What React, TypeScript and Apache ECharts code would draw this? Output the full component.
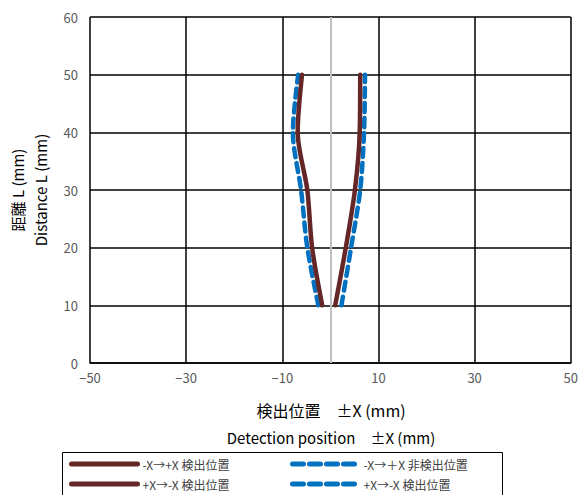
import React, { useEffect, useRef } from "react";
import * as echarts from "echarts";

const distance = [10, 20, 30, 40, 50];
const leftBrown = [-1.7, -3.8, -4.8, -6.8, -5.9];
const rightBrown = [1.0, 3.2, 5.1, 6.1, 6.2];
const leftBlue = [-2.5, -4.8, -6.1, -7.8, -6.7];
const rightBlue = [2.3, 4.3, 6.2, 7.0, 7.2];

const legendLabels: Record<string, string> = {
  b1: "-X→+X 検出位置",
  b2: "+X→-X 検出位置",
  c1: "-X→＋X 非検出位置",
  c2: "+X→-X 検出位置",
};

const FONT = "'Noto Sans CJK JP', 'Noto Sans', sans-serif";
const BROWN = "#642626";
const BLUE = "#0070C0";

function pts(xs: number[]) {
  return xs.map((x, i) => [x, distance[i]]);
}

export default function App() {
  const ref = useRef<HTMLDivElement>(null);
  useEffect(() => {
    if (!ref.current) return;
    const chart = echarts.init(ref.current, undefined, { renderer: "svg" });
    const brownLine = { color: BROWN, width: 4.5, cap: "round" as const };
    const blueLine = { color: BLUE, width: 4.5, type: [9, 6], cap: "round" as const };
    const legendCommon = {
      orient: "vertical",
      top: 458,
      height: 60,
      padding: 0,
      itemWidth: 66,
      itemHeight: 10,
      itemGap: 8,
      formatter: (n: string) => legendLabels[n],
      itemStyle: { opacity: 0 },
      textStyle: { fontSize: 12, color: "#404040", fontFamily: FONT },
    };
    chart.setOption({
      animation: false,
      textStyle: { fontFamily: FONT },
      grid: { left: 90, right: 9, top: 17, bottom: 132, containLabel: false },
      xAxis: {
        type: "value",
        min: -50,
        max: 50,
        interval: 20,
        axisLine: { show: true, lineStyle: { color: "#000", width: 1.5 } },
        axisTick: { show: false },
        splitLine: { show: true, lineStyle: { color: "#000", width: 1.5 } },
        axisLabel: {
          color: "#595959",
          fontSize: 13,
          fontFamily: FONT,
          margin: 8,
          formatter: (v: number) => String(v).replace("-", "−"),
        },
      },
      yAxis: {
        type: "value",
        min: 0,
        max: 60,
        interval: 10,
        axisLine: { show: true, lineStyle: { color: "#000", width: 1.5 } },
        axisTick: { show: false },
        splitLine: { show: true, lineStyle: { color: "#000", width: 1.5 } },
        axisLabel: { color: "#595959", fontSize: 13, fontFamily: FONT, margin: 12 },
      },
      legend: [
        {
          ...legendCommon,
          left: 69,
          data: ["b1", "b2"],
          lineStyle: { width: 5, color: BROWN, cap: "round" },
        },
        {
          ...legendCommon,
          left: 290,
          data: ["c1", "c2"],
          lineStyle: { width: 5, color: BLUE, type: [11, 6], cap: "round" },
        },
      ],
      graphic: [
        {
          type: "rect",
          shape: { x: 62.5, y: 452.5, width: 440, height: 50 },
          style: { fill: "none", stroke: "#000", lineWidth: 1 },
          silent: true,
        },
        {
          type: "text",
          x: 331,
          y: 410,
          style: {
            text: "検出位置　±X (mm)",
            font: `16px ${FONT}`,
            fill: "#000",
            align: "center",
            verticalAlign: "middle",
          },
        },
        {
          type: "text",
          x: 331,
          y: 437,
          style: {
            text: "Detection position　±X (mm)",
            font: `15px ${FONT}`,
            fill: "#000",
            align: "center",
            verticalAlign: "middle",
          },
        },
        {
          type: "text",
          x: 17,
          y: 190,
          rotation: Math.PI / 2,
          style: {
            text: "距離 L (mm)",
            font: `15px ${FONT}`,
            fill: "#000",
            align: "center",
            verticalAlign: "middle",
          },
        },
        {
          type: "text",
          x: 40,
          y: 190,
          rotation: Math.PI / 2,
          style: {
            text: "Distance L (mm)",
            font: `15px ${FONT}`,
            fill: "#000",
            align: "center",
            verticalAlign: "middle",
          },
        },
      ],
      series: [
        {
          name: "b1",
          type: "line",
          data: pts(leftBrown),
          smooth: 0.3,
          symbol: "none",
          lineStyle: brownLine,
          itemStyle: { color: BROWN },
          z: 4,
          markLine: {
            silent: true,
            symbol: "none",
            label: { show: false },
            lineStyle: { color: "#bfbfbf", width: 2, type: "solid" },
            data: [{ xAxis: 0 }],
          },
        },
        {
          name: "b2",
          type: "line",
          data: pts(rightBrown),
          smooth: 0.3,
          symbol: "none",
          lineStyle: brownLine,
          itemStyle: { color: BROWN },
          z: 4,
        },
        {
          name: "c1",
          type: "line",
          data: pts(leftBlue),
          smooth: 0.3,
          symbol: "none",
          lineStyle: blueLine,
          itemStyle: { color: BLUE },
          z: 3,
        },
        {
          name: "c2",
          type: "line",
          data: pts(rightBlue),
          smooth: 0.3,
          symbol: "none",
          lineStyle: blueLine,
          itemStyle: { color: BLUE },
          z: 3,
        },
      ],
    });
    return () => chart.dispose();
  }, []);
  return (
    <div
      ref={ref}
      style={{ position: "absolute", left: 0, top: 0, width: 581, height: 495, background: "#fff" }}
    />
  );
}
